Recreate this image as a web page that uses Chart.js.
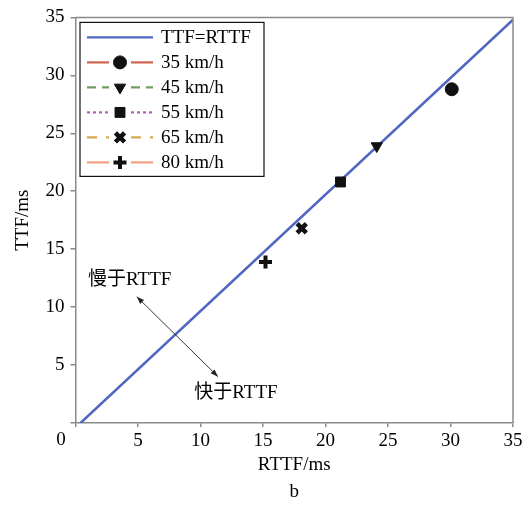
<!DOCTYPE html>
<html>
<head>
<meta charset="utf-8">
<style>
  html, body { margin: 0; padding: 0; background: #fff; }
  #wrap { width: 527px; height: 506px; }
</style>
</head>
<body>
<div id="wrap">
    <canvas id="myChart" width="527" height="506"></canvas>
</div>

<script src="https://cdn.jsdelivr.net/npm/chart.js"></script>

<script>
    // reference line TTF = RTTF
    const refX = [0.4, 35];
    const refY = [0, 34.8];

    // measured points, one per speed
    const speeds = ['35 km/h', '45 km/h', '55 km/h', '65 km/h', '80 km/h'];
    const rttf = [30.1, 24.1, 21.2, 18.1, 15.2];
    const ttf = [28.8, 23.9, 20.8, 16.8, 13.9];

    const xTicks = [0, 5, 10, 15, 20, 25, 30, 35];
    const yTicks = [0, 5, 10, 15, 20, 25, 30, 35];

    const FONT = '"Liberation Serif", "Times New Roman", "Noto Sans CJK SC", serif';
    const AXIS = '#8a8a8a';

    const markerStyles = [
        { pointStyle: 'circle', radius: 6.5, rot: 0, bw: 1 },
        { pointStyle: 'triangle', radius: 6.5, rot: 180, bw: 1 },
        { pointStyle: 'rect', radius: 7, rot: 0, bw: 1 },
        { pointStyle: 'crossRot', radius: 6.5, rot: 0, bw: 4.5 },
        { pointStyle: 'cross', radius: 6.5, rot: 0, bw: 4 }
    ];
    const legendLines = [
        { color: '#d0604e', dash: [] },
        { color: '#6f9f5f', dash: [9, 6] },
        { color: '#b45cb4', dash: [3, 3] },
        { color: '#d6aa50', dash: [10, 9] },
        { color: '#f2a082', dash: [] }
    ];

    const datasets = [{
        label: 'TTF=RTTF',
        data: refX.map((x, i) => ({ x: x, y: refY[i] })),
        showLine: true,
        borderColor: '#4f67c2',
        borderWidth: 2.5,
        pointRadius: 0,
        order: 10
    }];
    speeds.forEach((s, i) => {
        const m = markerStyles[i];
        datasets.push({
            label: s,
            data: [{ x: rttf[i], y: ttf[i] }],
            showLine: false,
            pointStyle: m.pointStyle,
            pointRadius: m.radius,
            pointRotation: m.rot,
            pointBorderWidth: m.bw,
            backgroundColor: '#111',
            borderColor: '#111',
            order: 1
        });
    });

    // box around the plot, double arrow, notes, legend, the shared "0"
    const decor = {
        id: 'decor',
        afterDraw(chart) {
            const { ctx, chartArea: a, scales: { x, y } } = chart;
            ctx.save();
            ctx.strokeStyle = AXIS;
            ctx.lineWidth = 1.5;
            ctx.beginPath();
            ctx.moveTo(a.left, a.top); ctx.lineTo(a.right, a.top); ctx.lineTo(a.right, a.bottom);
            ctx.stroke();

            // the origin label sits left of the corner
            ctx.fillStyle = '#000';
            ctx.font = '19px ' + FONT;
            ctx.textAlign = 'center';
            ctx.textBaseline = 'middle';
            ctx.fillText('0', x.getPixelForValue(0) - 14.5, a.bottom + 17);

            // double arrow
            const x1 = x.getPixelForValue(4.9), y1 = y.getPixelForValue(10.9);
            const x2 = x.getPixelForValue(11.4), y2 = y.getPixelForValue(4.0);
            ctx.strokeStyle = '#222';
            ctx.lineWidth = 0.9;
            ctx.beginPath(); ctx.moveTo(x1, y1); ctx.lineTo(x2, y2); ctx.stroke();
            const head = (px, py, ang) => {
                ctx.beginPath();
                ctx.moveTo(px, py);
                ctx.lineTo(px - 8 * Math.cos(ang - 0.35), py - 8 * Math.sin(ang - 0.35));
                ctx.lineTo(px - 8 * Math.cos(ang + 0.35), py - 8 * Math.sin(ang + 0.35));
                ctx.closePath();
                ctx.fillStyle = '#222';
                ctx.fill();
            };
            const ang = Math.atan2(y2 - y1, x2 - x1);
            head(x2, y2, ang);
            head(x1, y1, ang + Math.PI);

            ctx.fillStyle = '#000';
            ctx.textAlign = 'left';
            ctx.fillText('慢于RTTF', x.getPixelForValue(1.0), y.getPixelForValue(12.3));
            ctx.fillText('快于RTTF', x.getPixelForValue(9.5), y.getPixelForValue(2.6));

            // legend
            const lx = a.left + 4.5, ly = a.top + 5, lw = 184, lh = 154;
            ctx.fillStyle = '#fff';
            ctx.fillRect(lx, ly, lw, lh);
            ctx.strokeStyle = '#111';
            ctx.lineWidth = 1.2;
            ctx.strokeRect(lx, ly, lw, lh);
            chart.data.datasets.forEach((ds, i) => {
                const cy = ly + 15 + i * 25;
                const sx = lx + 7, ex = lx + 73, mx = lx + 40;
                ctx.lineWidth = 2.2;
                if (i === 0) {
                    ctx.strokeStyle = ds.borderColor;
                    ctx.setLineDash([]);
                    ctx.beginPath(); ctx.moveTo(sx, cy); ctx.lineTo(ex, cy); ctx.stroke();
                } else {
                    const L = legendLines[i - 1];
                    ctx.strokeStyle = L.color;
                    ctx.setLineDash(L.dash);
                    ctx.beginPath(); ctx.moveTo(sx, cy); ctx.lineTo(mx - 11, cy); ctx.stroke();
                    ctx.beginPath(); ctx.moveTo(mx + 11, cy); ctx.lineTo(ex, cy); ctx.stroke();
                    ctx.setLineDash([]);
                    ctx.fillStyle = '#111';
                    ctx.strokeStyle = '#111';
                    ctx.lineWidth = ds.pointBorderWidth;
                    Chart.helpers.drawPoint(ctx, {
                        pointStyle: ds.pointStyle,
                        radius: ds.pointRadius,
                        rotation: ds.pointRotation,
                        borderWidth: ds.pointBorderWidth
                    }, mx, cy);
                }
                ctx.fillStyle = '#000';
                ctx.font = '19px ' + FONT;
                ctx.textAlign = 'left';
                ctx.textBaseline = 'middle';
                ctx.fillText(ds.label, lx + 81, cy + 1);
            });
            ctx.restore();
        }
    };

    const ctx = document.getElementById('myChart');

    new Chart(ctx, {
        type: 'scatter',
        data: { datasets: datasets },
        options: {
            responsive: false,
            animation: false,
            layout: { padding: { top: 17, right: 14, left: 0, bottom: 0 } },
            plugins: {
                legend: { display: false },
                tooltip: { enabled: false }
            },
            scales: {
                x: {
                    type: 'linear',
                    min: 0, max: 35,
                    afterBuildTicks: s => { s.ticks = xTicks.map(v => ({ value: v })); },
                    afterFit: s => { s.height = 83; },
                    ticks: {
                        color: '#000',
                        padding: 3,
                        maxRotation: 0,
                        font: { family: FONT, size: 19 },
                        callback: v => v === 0 ? '' : v
                    },
                    grid: { drawOnChartArea: false, drawTicks: true, tickLength: 4, color: AXIS, lineWidth: 1.5 },
                    border: { color: AXIS, width: 1.5 },
                    title: {
                        display: true,
                        text: ['RTTF/ms', 'b'],
                        color: '#000',
                        font: { family: FONT, size: 19, lineHeight: 1.45 },
                        padding: { top: 0, bottom: 0 }
                    }
                },
                y: {
                    type: 'linear',
                    min: 0, max: 35,
                    afterBuildTicks: s => { s.ticks = yTicks.map(v => ({ value: v })); },
                    afterFit: s => { s.width = 75.5; },
                    ticks: {
                        color: '#000',
                        padding: 6,
                        font: { family: FONT, size: 19 },
                        callback: v => v === 0 ? '' : v
                    },
                    grid: { drawOnChartArea: false, drawTicks: true, tickLength: 5, color: AXIS, lineWidth: 1.5 },
                    border: { color: AXIS, width: 1.5 },
                    title: {
                        display: true,
                        text: 'TTF/ms',
                        color: '#000',
                        font: { family: FONT, size: 19 },
                        padding: { top: 12, bottom: 0 }
                    }
                }
            }
        },
        plugins: [decor]
    });
</script>
</body>
</html>
